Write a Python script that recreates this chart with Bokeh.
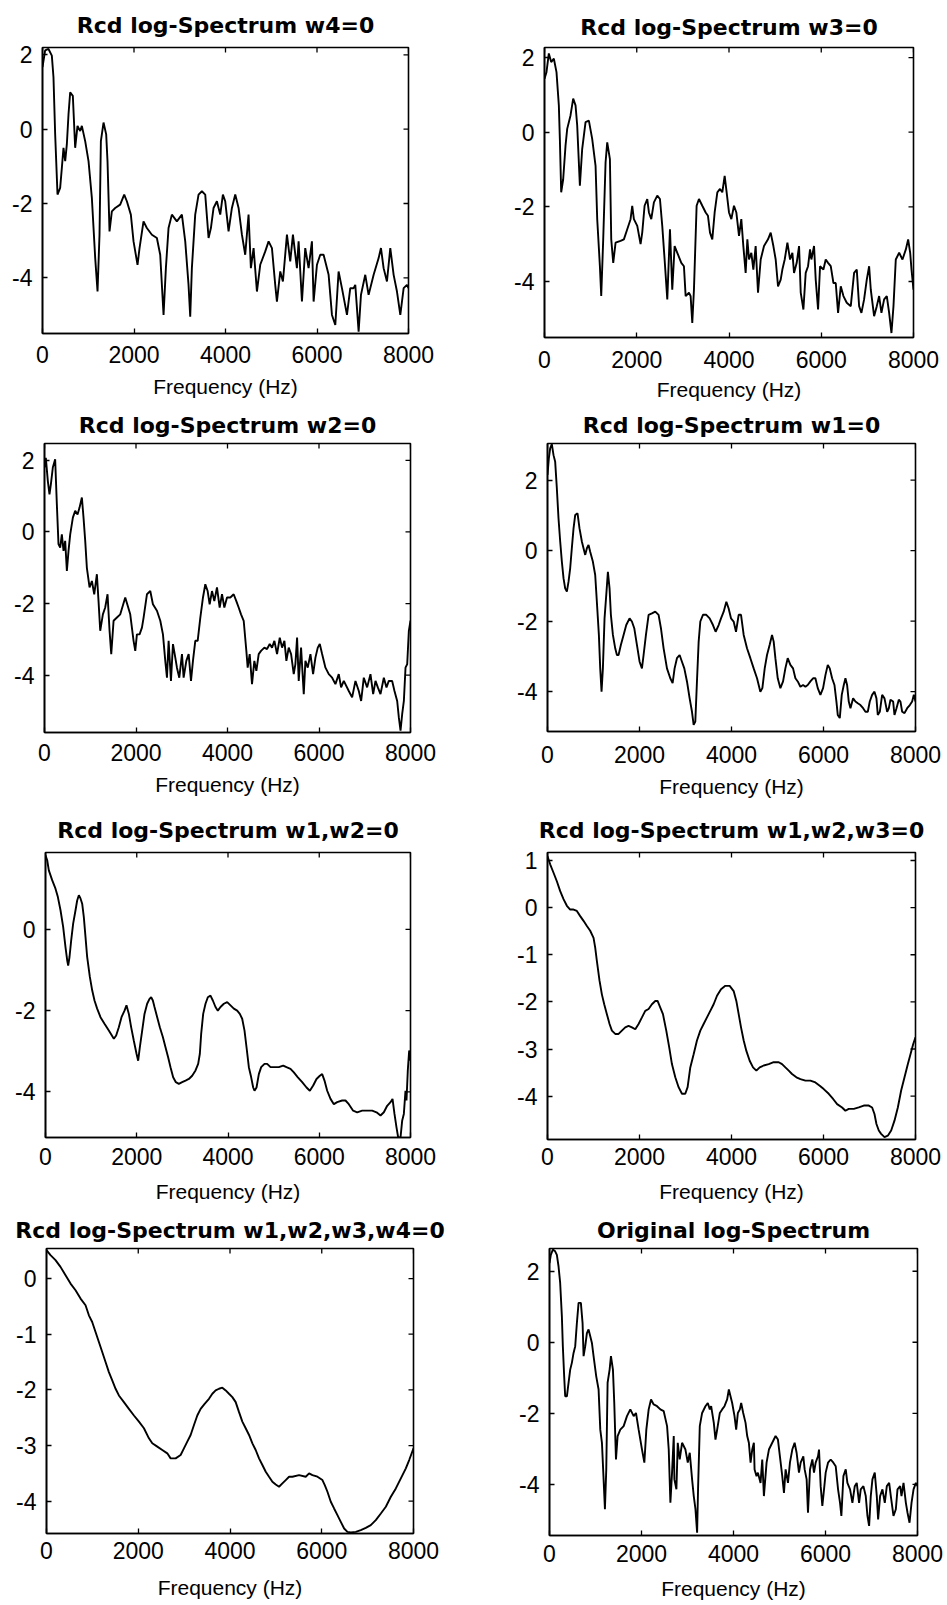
import math
from bokeh.plotting import figure
from bokeh.layouts import column, row
from bokeh.models import FixedTicker, Range1d
from bokeh.embed import file_html
from bokeh.resources import INLINE

X_TICKS = [0, 2000, 4000, 6000, 8000]
X_LABEL = "Frequency (Hz)"

# ---- Panel data (frequency in Hz, log-spectrum value) ----
title_w4 = "Rcd log-Spectrum w4=0"
f_w4 = [0, 58, 131, 204, 240, 277, 328, 386, 423, 459, 496, 532, 569, 605, 663, 714, 765, 824, 860, 933,
        1006, 1079, 1152, 1203, 1246, 1276, 1334, 1392, 1421, 1465, 1516, 1589, 1698, 1786, 1844, 1931, 1990,
        2077, 2121, 2208, 2281, 2391, 2500, 2573, 2646, 2697, 2755, 2828, 2937, 3047, 3120, 3192, 3229, 3265,
        3338, 3411, 3484, 3557, 3630, 3681, 3739, 3812, 3885, 3943, 3994, 4067, 4140, 4213, 4286, 4359, 4431,
        4504, 4555, 4614, 4687, 4759, 4869, 4942, 5015, 5087, 5124, 5197, 5255, 5343, 5415, 5474, 5561, 5598,
        5671, 5743, 5816, 5889, 5926, 5999, 6071, 6144, 6254, 6327, 6400, 6472, 6545, 6655, 6727, 6800, 6837,
        6910, 6961, 7055, 7128, 7238, 7347, 7398, 7456, 7529, 7602, 7675, 7748, 7821, 7894, 7966, 8000]
s_w4 = [1.67, 2.12, 2.16, 1.98, 1.40, -0.14, -1.76, -1.58, -1.04, -0.50, -0.86, -0.41, 0.41, 0.99, 0.90, -0.50,
        0.09, -0.05, 0.09, -0.32, -0.86, -1.85, -3.47, -4.37, -2.84, -0.32, 0.18, -0.14, -0.86, -2.75, -2.21,
        -2.12, -2.03, -1.76, -1.94, -2.30, -3.02, -3.65, -3.20, -2.48, -2.66, -2.84, -2.93, -3.38, -5.00, -3.74,
        -2.66, -2.30, -2.48, -2.30, -3.02, -4.19, -5.05, -3.74, -2.30, -1.76, -1.67, -1.76, -2.93, -2.66, -2.12,
        -1.94, -2.30, -1.76, -1.94, -2.75, -2.12, -1.76, -2.12, -2.84, -3.38, -2.30, -3.74, -3.20, -4.37, -3.65,
        -3.29, -3.02, -3.20, -4.19, -4.64, -3.83, -4.10, -2.84, -3.56, -2.84, -3.74, -3.02, -4.64, -3.20, -3.74,
        -3.02, -4.64, -3.65, -3.38, -3.38, -3.92, -5.00, -5.27, -3.83, -4.28, -5.00, -4.28, -4.28, -4.19, -5.45,
        -4.46, -3.92, -4.46, -3.92, -3.47, -3.20, -3.74, -4.10, -3.20, -3.92, -4.37, -5.00, -4.28, -4.19, -4.28]

title_w3 = "Rcd log-Spectrum w3=0"
f_w3 = [0, 43, 94, 145, 203, 260, 311, 333, 362, 405, 456, 492, 564, 622, 673, 709, 767, 817, 890, 962, 1034,
        1107, 1143, 1201, 1230, 1273, 1324, 1360, 1418, 1447, 1490, 1541, 1649, 1721, 1794, 1866, 1902, 1938,
        2011, 2083, 2119, 2170, 2228, 2264, 2315, 2372, 2445, 2503, 2553, 2604, 2662, 2720, 2770, 2821, 2879,
        2966, 3023, 3060, 3132, 3168, 3204, 3240, 3298, 3349, 3421, 3494, 3544, 3588, 3638, 3689, 3747, 3805,
        3855, 3906, 3949, 4000, 4051, 4108, 4159, 4217, 4267, 4311, 4361, 4398, 4434, 4484, 4528, 4578, 4629,
        4687, 4759, 4846, 4904, 4962, 5012, 5063, 5121, 5157, 5208, 5266, 5324, 5374, 5410, 5468, 5519, 5555,
        5613, 5663, 5714, 5757, 5786, 5844, 5880, 5931, 5974, 6047, 6097, 6148, 6206, 6264, 6314, 6365, 6423,
        6481, 6553, 6640, 6712, 6770, 6821, 6871, 6929, 6987, 7038, 7074, 7146, 7204, 7255, 7305, 7363, 7421,
        7472, 7522, 7566, 7616, 7689, 7761, 7834, 7884, 7928, 7957, 8000]
s_w3 = [1.43, 1.61, 2.11, 1.88, 1.97, 1.61, 0.72, -0.18, -1.61, -1.26, -0.36, 0.09, 0.45, 0.90, 0.72, 0.18,
        -1.43, -0.45, 0.27, 0.31, -0.18, -0.90, -2.33, -3.59, -4.39, -2.87, -0.81, -0.27, -0.72, -2.87, -3.50,
        -2.96, -2.91, -2.87, -2.60, -2.33, -1.97, -2.33, -2.51, -3.00, -2.69, -1.97, -1.79, -2.15, -2.33, -1.88,
        -1.70, -1.79, -2.51, -3.41, -4.48, -2.60, -4.22, -3.05, -3.23, -3.50, -3.59, -4.39, -4.30, -4.39, -5.11,
        -4.22, -1.97, -1.79, -1.97, -2.15, -2.24, -2.69, -2.87, -2.15, -1.61, -1.52, -1.61, -1.17, -1.61, -2.15,
        -2.33, -1.97, -2.15, -2.78, -2.33, -3.05, -3.77, -2.87, -3.41, -3.23, -3.68, -3.05, -4.30, -3.41, -3.05,
        -2.87, -2.69, -3.05, -3.41, -4.13, -3.95, -3.68, -3.41, -2.96, -3.41, -3.23, -3.77, -3.50, -3.05, -4.30,
        -4.75, -3.77, -3.59, -3.14, -3.41, -3.05, -3.95, -4.75, -3.59, -3.68, -3.41, -3.50, -3.59, -4.04, -4.04,
        -4.84, -4.13, -4.39, -4.57, -4.66, -3.77, -3.68, -4.66, -4.84, -4.48, -3.95, -3.59, -4.22, -4.93, -4.66,
        -4.39, -4.84, -4.48, -4.39, -4.84, -5.38, -4.66, -3.41, -3.23, -3.41, -3.14, -2.87, -3.23, -3.68, -4.22]

title_w2 = "Rcd log-Spectrum w2=0"
f_w2 = [0, 29, 73, 109, 139, 182, 233, 270, 306, 343, 379, 416, 452, 489, 525, 562, 620, 671, 722, 766, 817,
        853, 890, 926, 985, 1036, 1087, 1145, 1181, 1218, 1276, 1327, 1378, 1422, 1459, 1510, 1583, 1656, 1765,
        1874, 1947, 1984, 2020, 2078, 2130, 2166, 2239, 2312, 2370, 2458, 2531, 2589, 2640, 2677, 2713, 2764,
        2808, 2859, 2895, 2946, 3005, 3041, 3100, 3151, 3202, 3245, 3296, 3348, 3406, 3464, 3515, 3566, 3610,
        3661, 3712, 3770, 3829, 3880, 3931, 3989, 4062, 4135, 4193, 4244, 4296, 4354, 4412, 4441, 4485, 4536,
        4587, 4631, 4682, 4733, 4806, 4864, 4923, 4974, 5025, 5083, 5142, 5193, 5244, 5287, 5338, 5390, 5448,
        5484, 5521, 5557, 5608, 5667, 5703, 5754, 5813, 5871, 5922, 5973, 6017, 6068, 6141, 6214, 6287, 6359,
        6432, 6483, 6542, 6651, 6724, 6797, 6870, 6921, 6979, 7052, 7125, 7184, 7235, 7286, 7344, 7417, 7475,
        7526, 7599, 7650, 7709, 7745, 7782, 7818, 7855, 7891, 7928, 7964, 8000]
s_w2 = [1.80, 2.07, 1.42, 1.05, 1.33, 1.80, 2.03, 0.77, -0.34, -0.44, -0.07, -0.53, -0.25, -1.09, -0.53, -0.07,
        0.40, 0.59, 0.49, 0.68, 0.96, 0.40, -0.25, -1.00, -1.55, -1.37, -1.74, -1.18, -1.93, -2.76, -2.30, -2.11,
        -1.74, -2.76, -3.41, -2.48, -2.39, -2.30, -1.83, -2.30, -3.04, -3.32, -2.86, -2.86, -2.67, -2.39, -1.74,
        -1.65, -2.02, -2.20, -2.48, -2.86, -3.60, -4.07, -3.04, -4.16, -3.13, -3.51, -3.79, -4.07, -3.41, -4.07,
        -3.60, -3.41, -4.16, -3.60, -3.04, -3.04, -2.39, -1.83, -1.46, -1.65, -2.02, -1.65, -1.93, -1.55, -2.11,
        -1.74, -2.11, -1.83, -1.83, -1.74, -1.93, -2.11, -2.30, -2.48, -3.32, -3.79, -3.41, -4.25, -3.60, -3.88,
        -3.41, -3.32, -3.23, -3.27, -3.13, -3.23, -3.04, -3.41, -2.95, -3.23, -3.04, -3.60, -3.23, -3.41, -3.97,
        -3.69, -2.95, -4.16, -3.23, -4.53, -3.60, -3.79, -3.41, -3.97, -3.51, -3.23, -3.13, -3.41, -3.79, -3.97,
        -4.07, -4.25, -3.97, -4.34, -4.16, -4.44, -4.62, -4.16, -4.44, -4.72, -4.07, -4.34, -3.97, -4.53, -4.16,
        -4.34, -4.53, -4.07, -4.34, -4.16, -4.16, -4.44, -4.72, -5.18, -5.55, -5.09, -4.72, -3.79, -3.69, -2.76,
        -2.48]

title_w1 = "Rcd log-Spectrum w1=0"
f_w1 = [0, 29, 58, 94, 131, 167, 203, 239, 276, 312, 348, 384, 421, 457, 493, 529, 566, 602, 653, 696, 747,
        783, 820, 856, 892, 928, 986, 1037, 1073, 1117, 1146, 1175, 1204, 1240, 1277, 1313, 1349, 1378, 1422,
        1472, 1509, 1545, 1596, 1654, 1712, 1784, 1835, 1886, 1944, 2002, 2053, 2089, 2140, 2198, 2270, 2343,
        2415, 2466, 2524, 2597, 2669, 2720, 2763, 2814, 2872, 2923, 2974, 3032, 3090, 3141, 3177, 3213, 3249,
        3286, 3322, 3380, 3452, 3525, 3597, 3655, 3721, 3772, 3830, 3888, 3938, 3989, 4047, 4098, 4156, 4207,
        4265, 4337, 4410, 4482, 4555, 4627, 4671, 4722, 4772, 4830, 4881, 4917, 4954, 5005, 5063, 5121, 5171,
        5222, 5280, 5338, 5389, 5440, 5498, 5556, 5607, 5657, 5715, 5773, 5824, 5875, 5933, 5991, 6042, 6093,
        6136, 6187, 6238, 6281, 6310, 6354, 6397, 6441, 6477, 6513, 6549, 6586, 6644, 6694, 6745, 6803, 6861,
        6912, 6963, 7006, 7057, 7108, 7151, 7180, 7224, 7275, 7326, 7384, 7420, 7456, 7514, 7543, 7587, 7637,
        7673, 7710, 7761, 7819, 7877, 7927, 7964, 8000]
s_w1 = [2.15, 2.62, 2.90, 3.02, 2.71, 2.52, 1.77, 0.92, 0.26, -0.31, -0.78, -1.07, -1.16, -0.88, -0.50, 0.07,
        0.63, 1.01, 1.06, 0.63, 0.26, 0.07, -0.12, 0.07, 0.16, -0.03, -0.31, -0.69, -1.45, -2.39, -3.34, -4.00,
        -3.34, -1.92, -1.26, -0.60, -1.07, -1.82, -2.39, -2.77, -2.96, -2.96, -2.67, -2.39, -2.11, -1.92, -2.01,
        -2.20, -2.67, -3.15, -3.34, -2.96, -2.39, -1.82, -1.78, -1.73, -1.82, -2.20, -2.77, -3.34, -3.62, -3.76,
        -3.34, -3.05, -2.96, -3.15, -3.34, -3.71, -4.19, -4.57, -4.94, -4.85, -3.71, -2.58, -2.01, -1.82, -1.82,
        -1.92, -2.11, -2.30, -2.11, -1.92, -1.73, -1.45, -1.64, -1.92, -2.01, -2.30, -1.82, -1.82, -2.39, -2.77,
        -3.05, -3.34, -3.62, -4.00, -3.90, -3.34, -2.96, -2.67, -2.39, -2.58, -3.05, -3.62, -3.90, -3.71, -3.34,
        -3.05, -3.24, -3.34, -3.62, -3.71, -3.86, -3.81, -3.86, -3.81, -3.71, -3.62, -3.62, -3.90, -4.09, -3.90,
        -3.53, -3.24, -3.34, -3.62, -3.81, -4.28, -4.66, -4.75, -4.09, -3.81, -3.62, -3.81, -4.28, -4.47, -4.19,
        -4.28, -4.33, -4.38, -4.47, -4.57, -4.57, -4.28, -4.09, -4.00, -4.19, -4.66, -4.57, -4.09, -4.19, -4.57,
        -4.47, -4.23, -4.28, -4.66, -4.47, -4.23, -4.28, -4.57, -4.61, -4.47, -4.38, -4.28, -4.09, -4.28]

title_w12 = "Rcd log-Spectrum w1,w2=0"
f_w12 = [0, 37, 73, 146, 219, 270, 329, 387, 438, 475, 497, 526, 563, 606, 658, 694, 731, 767, 804, 840, 877,
         913, 972, 1023, 1074, 1132, 1205, 1293, 1388, 1498, 1549, 1607, 1666, 1732, 1775, 1827, 1878, 1936,
         1995, 2031, 2068, 2119, 2170, 2228, 2280, 2316, 2353, 2389, 2448, 2506, 2572, 2630, 2689, 2740, 2798,
         2857, 2922, 2995, 3069, 3142, 3215, 3288, 3346, 3383, 3412, 3456, 3507, 3558, 3616, 3668, 3726, 3777,
         3836, 3909, 3982, 4055, 4128, 4201, 4259, 4311, 4362, 4406, 4457, 4508, 4552, 4581, 4625, 4676, 4727,
         4800, 4858, 4932, 5005, 5114, 5209, 5282, 5370, 5443, 5531, 5626, 5721, 5794, 5867, 5940, 6013, 6064,
         6115, 6174, 6247, 6320, 6393, 6502, 6575, 6648, 6743, 6831, 6941, 7050, 7160, 7255, 7343, 7416, 7489,
         7562, 7606, 7649, 7693, 7730, 7781, 7817, 7854, 7890, 7912, 7941, 7971, 8000]
s_w12 = [1.82, 1.70, 1.45, 1.21, 1.00, 0.80, 0.47, 0.06, -0.44, -0.76, -0.89, -0.68, -0.27, 0.14, 0.47, 0.71,
         0.84, 0.76, 0.63, 0.30, -0.19, -0.68, -1.17, -1.50, -1.75, -1.95, -2.16, -2.32, -2.49, -2.69, -2.61,
         -2.41, -2.16, -2.00, -1.87, -2.08, -2.41, -2.74, -3.06, -3.23, -2.90, -2.49, -2.08, -1.83, -1.71, -1.67,
         -1.75, -1.91, -2.16, -2.41, -2.65, -2.90, -3.15, -3.39, -3.64, -3.76, -3.80, -3.76, -3.72, -3.68, -3.60,
         -3.47, -3.31, -3.06, -2.57, -2.08, -1.83, -1.67, -1.63, -1.75, -1.91, -2.00, -1.91, -1.83, -1.79, -1.87,
         -1.95, -2.00, -2.08, -2.20, -2.49, -2.90, -3.39, -3.64, -3.89, -3.97, -3.89, -3.56, -3.39, -3.31, -3.31,
         -3.39, -3.39, -3.39, -3.35, -3.39, -3.43, -3.52, -3.64, -3.76, -3.89, -3.97, -3.84, -3.68, -3.60, -3.56,
         -3.72, -3.97, -4.17, -4.30, -4.25, -4.21, -4.21, -4.30, -4.46, -4.50, -4.46, -4.46, -4.46, -4.50, -4.58,
         -4.50, -4.34, -4.25, -4.17, -4.54, -4.87, -5.12, -5.12, -4.71, -4.54, -3.97, -4.21, -3.47, -2.98, -3.23]

title_w123 = "Rcd log-Spectrum w1,w2,w3=0"
f_w123 = [0, 58, 131, 203, 276, 348, 421, 493, 566, 638, 711, 783, 856, 928, 1001, 1037, 1073, 1131, 1182, 1233,
          1291, 1349, 1400, 1472, 1545, 1617, 1690, 1762, 1835, 1908, 1980, 2053, 2125, 2198, 2270, 2343, 2393,
          2452, 2510, 2582, 2647, 2705, 2778, 2850, 2923, 2995, 3046, 3104, 3177, 3249, 3322, 3394, 3467, 3539,
          3612, 3685, 3772, 3866, 3960, 4047, 4105, 4156, 4207, 4265, 4323, 4395, 4468, 4540, 4613, 4700, 4809,
          4917, 5026, 5099, 5171, 5244, 5316, 5411, 5498, 5607, 5715, 5824, 5918, 6005, 6114, 6209, 6296, 6404,
          6477, 6549, 6658, 6767, 6876, 6985, 7057, 7108, 7151, 7202, 7253, 7326, 7398, 7471, 7543, 7616, 7688,
          7761, 7834, 7891, 7949, 8000]
s_w123 = [1.09, 0.92, 0.74, 0.56, 0.35, 0.18, 0.04, -0.04, -0.04, -0.07, -0.18, -0.28, -0.39, -0.49, -0.64,
          -0.85, -1.13, -1.55, -1.84, -2.05, -2.26, -2.47, -2.61, -2.68, -2.68, -2.61, -2.54, -2.51, -2.54, -2.58,
          -2.47, -2.33, -2.19, -2.15, -2.05, -1.98, -1.98, -2.12, -2.26, -2.61, -2.97, -3.32, -3.60, -3.81, -3.95,
          -3.95, -3.81, -3.39, -3.11, -2.82, -2.61, -2.47, -2.33, -2.19, -2.05, -1.87, -1.73, -1.66, -1.66, -1.77,
          -1.98, -2.26, -2.54, -2.82, -3.04, -3.25, -3.39, -3.46, -3.39, -3.35, -3.32, -3.28, -3.28, -3.32, -3.39,
          -3.46, -3.53, -3.60, -3.64, -3.67, -3.67, -3.71, -3.78, -3.85, -3.95, -4.06, -4.17, -4.24, -4.31, -4.27,
          -4.27, -4.24, -4.20, -4.20, -4.24, -4.38, -4.59, -4.73, -4.80, -4.87, -4.84, -4.73, -4.52, -4.24, -3.88,
          -3.60, -3.32, -3.11, -2.90, -2.75]

title_w1234 = "Rcd log-Spectrum w1,w2,w3,w4=0"
f_w1234 = [0, 87, 196, 305, 415, 524, 633, 742, 851, 924, 996, 1069, 1142, 1215, 1287, 1360, 1433, 1506, 1578,
           1687, 1796, 1906, 2015, 2124, 2233, 2306, 2415, 2524, 2633, 2706, 2815, 2924, 2996, 3069, 3142, 3215,
           3287, 3360, 3447, 3542, 3615, 3687, 3760, 3833, 3906, 3978, 4051, 4124, 4197, 4269, 4342, 4415, 4488,
           4560, 4633, 4706, 4779, 4851, 4924, 4997, 5069, 5142, 5215, 5288, 5360, 5506, 5651, 5724, 5797, 5906,
           6015, 6066, 6124, 6197, 6269, 6342, 6415, 6488, 6560, 6633, 6742, 6851, 6960, 7069, 7178, 7288, 7397,
           7506, 7615, 7724, 7833, 7906, 8000]
s_w1234 = [0.51, 0.42, 0.33, 0.21, 0.06, -0.09, -0.21, -0.36, -0.48, -0.66, -0.78, -0.96, -1.14, -1.32, -1.50,
           -1.68, -1.83, -1.98, -2.10, -2.22, -2.34, -2.46, -2.57, -2.69, -2.87, -2.96, -3.02, -3.08, -3.14, -3.23,
           -3.23, -3.17, -3.05, -2.93, -2.81, -2.63, -2.46, -2.34, -2.25, -2.16, -2.07, -2.01, -1.98, -1.96, -2.01,
           -2.07, -2.13, -2.22, -2.40, -2.57, -2.69, -2.81, -2.96, -3.08, -3.23, -3.35, -3.47, -3.56, -3.65, -3.70,
           -3.74, -3.68, -3.62, -3.56, -3.56, -3.53, -3.56, -3.50, -3.53, -3.56, -3.62, -3.71, -3.83, -4.01, -4.13,
           -4.25, -4.37, -4.49, -4.55, -4.56, -4.55, -4.52, -4.48, -4.43, -4.34, -4.22, -4.10, -3.92, -3.77, -3.59,
           -3.41, -3.26, -3.05]

title_orig = "Original log-Spectrum"
f_orig = [0, 29, 73, 123, 160, 196, 232, 269, 290, 319, 341, 378, 414, 450, 486, 523, 559, 595, 632, 682, 719,
          741, 777, 813, 849, 886, 922, 958, 1016, 1067, 1104, 1140, 1176, 1205, 1234, 1263, 1307, 1336, 1379,
          1408, 1445, 1481, 1539, 1612, 1684, 1757, 1830, 1880, 1938, 2011, 2062, 2105, 2156, 2207, 2265, 2338,
          2410, 2483, 2556, 2592, 2628, 2664, 2701, 2715, 2759, 2788, 2831, 2882, 2955, 3006, 3049, 3100, 3136,
          3173, 3209, 3231, 3267, 3318, 3390, 3441, 3485, 3514, 3572, 3608, 3645, 3703, 3753, 3804, 3862, 3899,
          3935, 3971, 4022, 4058, 4095, 4138, 4167, 4211, 4262, 4298, 4334, 4371, 4407, 4443, 4458, 4501, 4530,
          4588, 4625, 4661, 4719, 4770, 4842, 4915, 4966, 5009, 5060, 5097, 5133, 5184, 5227, 5278, 5329, 5372,
          5423, 5460, 5518, 5547, 5590, 5619, 5663, 5714, 5750, 5786, 5837, 5859, 5895, 5931, 5968, 6004, 6055,
          6113, 6171, 6222, 6273, 6316, 6345, 6389, 6440, 6476, 6534, 6585, 6636, 6679, 6730, 6766, 6824, 6875,
          6912, 6948, 6984, 7020, 7071, 7115, 7144, 7187, 7238, 7289, 7333, 7384, 7420, 7478, 7529, 7565, 7623,
          7652, 7696, 7747, 7783, 7827, 7870, 7914, 7965, 8000]
s_orig = [2.23, 2.46, 2.61, 2.56, 2.46, 2.14, 1.67, 0.73, -0.11, -0.96, -1.52, -1.52, -1.14, -0.77, -0.58, -0.30,
          -0.11, 0.54, 1.11, 1.11, 0.54, -0.39, -0.11, 0.26, 0.36, 0.17, -0.02, -0.39, -0.96, -1.33, -2.46, -2.83,
          -3.86, -4.70, -3.58, -1.14, -0.77, -0.39, -0.77, -1.71, -3.30, -2.64, -2.46, -2.36, -2.08, -1.89, -2.08,
          -1.99, -2.46, -3.02, -3.39, -2.46, -1.89, -1.61, -1.75, -1.80, -1.89, -1.94, -2.36, -3.02, -4.52, -3.67,
          -2.64, -3.86, -4.14, -2.83, -3.30, -2.83, -3.02, -3.39, -3.11, -3.86, -4.33, -4.70, -5.36, -4.05, -2.36,
          -1.99, -1.80, -1.71, -1.89, -1.80, -2.27, -2.74, -2.46, -1.99, -1.89, -1.80, -1.61, -1.33, -1.52, -1.71,
          -2.08, -2.46, -1.99, -1.89, -1.71, -1.99, -2.27, -2.64, -2.83, -3.39, -3.02, -2.83, -3.58, -3.77, -3.67,
          -3.96, -3.30, -4.33, -3.39, -3.02, -2.83, -2.64, -2.74, -3.21, -3.77, -4.24, -3.58, -3.96, -3.39, -3.02,
          -2.83, -3.11, -3.67, -3.39, -3.21, -3.58, -3.86, -4.80, -3.58, -3.30, -3.67, -3.39, -3.21, -3.02, -4.05,
          -4.61, -4.14, -3.67, -3.39, -3.30, -3.39, -3.49, -4.14, -4.52, -4.89, -3.77, -3.58, -3.96, -4.14, -4.52,
          -4.05, -3.96, -4.52, -4.14, -4.05, -4.33, -4.89, -5.17, -4.33, -3.86, -3.67, -4.33, -4.99, -4.33, -4.14,
          -4.52, -4.05, -3.96, -4.33, -4.89, -4.70, -4.14, -4.05, -4.33, -3.96, -4.52, -4.80, -5.08, -4.52, -4.14,
          -3.96, -4.05]

# ---- axis limits and y tick values per panel ----
ylim_w4, yt_w4 = (-5.5, 2.2), [-4, -2, 0, 2]
ylim_w3, yt_w3 = (-5.5, 2.27), [-4, -2, 0, 2]
ylim_w2, yt_w2 = (-5.6, 2.47), [-4, -2, 0, 2]
ylim_w1, yt_w1 = (-5.13, 3.04), [-4, -2, 0, 2]
ylim_w12, yt_w12 = (-5.12, 1.89), [-4, -2, 0]
ylim_w123, yt_w123 = (-4.92, 1.17), [-4, -3, -2, -1, 0, 1]
ylim_w1234, yt_w1234 = (-4.58, 0.54), [-4, -3, -2, -1, 0]
ylim_orig, yt_orig = (-5.44, 2.64), [-4, -2, 0, 2]


def panel(title, f, s, ylim, yticks, geom, lab_so, axlab_so, title_so):
    left, top, fw, fh, right, bottom = geom
    p = figure(output_backend="svg", toolbar_location=None,
               frame_width=fw, frame_height=fh,
               min_border_left=left, min_border_top=top,
               min_border_right=right, min_border_bottom=bottom,
               x_range=Range1d(0, 8000), y_range=Range1d(*ylim),
               title=title)
    p.line(f, s, line_color="black", line_width=1.9)
    # tick marks on the top and right edges of the box (screen-length rays)
    p.ray(x=X_TICKS, y=[ylim[1]] * len(X_TICKS), length=5, length_units="screen",
          angle=-math.pi / 2, line_color="black", line_width=1.3)
    p.ray(x=[8000] * len(yticks), y=yticks, length=5, length_units="screen",
          angle=math.pi, line_color="black", line_width=1.3)
    p.background_fill_color = "white"
    p.border_fill_color = "white"
    p.outline_line_color = "black"
    p.outline_line_width = 1.6
    p.grid.visible = False

    p.title.align = "center"
    p.title.text_font = "DejaVu Sans"
    p.title.text_font_style = "bold"
    p.title.text_font_size = "22px"
    p.title.text_color = "black"
    p.title.standoff = title_so

    xa = p.xaxis[0]
    xa.ticker = FixedTicker(ticks=X_TICKS)
    xa.major_label_overrides = {t: str(t) for t in X_TICKS}
    xa.axis_label = X_LABEL
    xa.axis_label_text_font = "Liberation Sans"
    xa.axis_label_text_font_style = "normal"
    xa.axis_label_text_font_size = "21px"
    xa.axis_label_text_color = "black"
    xa.axis_label_standoff = axlab_so
    xa.major_label_standoff = lab_so
    ya = p.yaxis[0]
    ya.ticker = FixedTicker(ticks=yticks)
    ya.major_label_overrides = {t: str(t) for t in yticks}
    ya.major_label_standoff = 10
    for ax in (xa, ya):
        ax.major_label_text_font = "Liberation Sans"
        ax.major_label_text_font_size = "23px"
        ax.major_label_text_color = "black"
        ax.axis_line_color = "black"
        ax.axis_line_width = 1.6
        ax.major_tick_in = 5
        ax.major_tick_out = 0
        ax.major_tick_line_color = "black"
        ax.major_tick_line_width = 1.3
        ax.minor_tick_line_color = None
    return p


# geometry: (left, top, frame_w, frame_h, right, bottom) in px
p1 = panel(title_w4, f_w4, s_w4, ylim_w4, yt_w4, (42, 47, 366, 286, 68, 71), 12, 9, 19)
p2 = panel(title_w3, f_w3, s_w3, ylim_w3, yt_w3, (68, 43, 369, 290, 34, 71), 13, 7, 16)
p3 = panel(title_w2, f_w2, s_w2, ylim_w2, yt_w2, (44, 39, 366, 289, 66, 73), 11, 9, 12)
p4 = panel(title_w1, f_w1, s_w1, ylim_w1, yt_w1, (71, 38, 368, 288, 32, 75), 14, 9, 11)
p5 = panel(title_w12, f_w12, s_w12, ylim_w12, yt_w12, (45, 47, 365, 285, 66, 72), 10, 12, 19)
p6 = panel(title_w123, f_w123, s_w123, ylim_w123, yt_w123, (71, 47, 368, 287, 32, 70), 8, 12, 20)
p7 = panel(title_w1234, f_w1234, s_w1234, ylim_w1234, yt_w1234, (46, 39, 367, 285, 63, 72), 8, 14, 12)
p8 = panel(title_orig, f_orig, s_orig, ylim_orig, yt_orig, (73, 38, 368, 287, 30, 71), 9, 12, 11)

layout = column(row(p1, p2, spacing=0), row(p3, p4, spacing=0),
                row(p5, p6, spacing=0), row(p7, p8, spacing=0), spacing=0)

open("out.html", "w").write(file_html(layout, INLINE))
